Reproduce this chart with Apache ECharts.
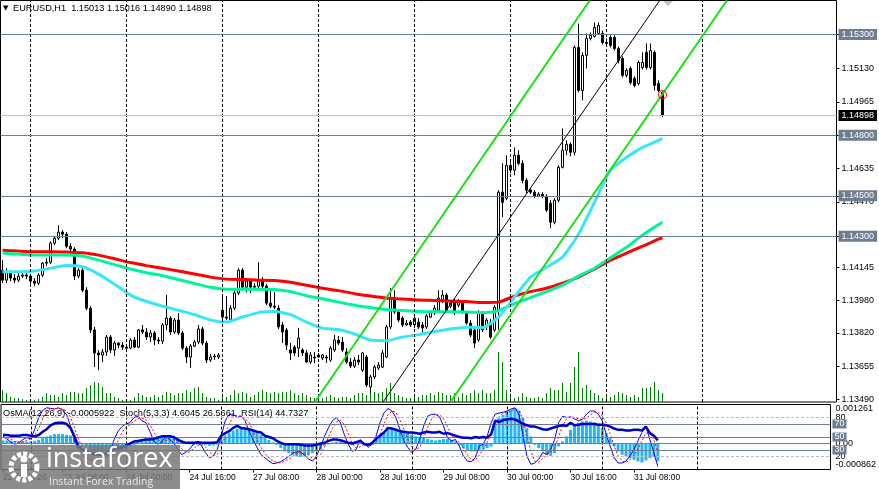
<!DOCTYPE html>
<html><head><meta charset="utf-8">
<script src="https://cdn.jsdelivr.net/npm/echarts@6/dist/echarts.min.js"></script>
<style>html,body{margin:0;padding:0;background:#fff}#c{width:879px;height:489px}</style>
</head><body><div id="c"></div><script>
// ---------- DATA ----------
const symbolTitle = 'EURUSD,H1';
const opens = [
1.14131,1.14082,1.14122,1.14092,1.14082,1.14102,1.14107,1.14102,1.14077,1.14067,
1.14107,1.14166,1.14171,1.14265,1.14290,1.14320,1.14310,1.14250,1.14236,1.14102,
1.14131,1.14032,1.13943,1.13835,1.13721,1.13711,1.13726,1.13800,1.13736,1.13770,
1.13760,1.13750,1.13745,1.13785,1.13750,1.13835,1.13825,1.13800,1.13820,1.13785,
1.13780,1.13860,1.13894,1.13825,1.13884,1.13820,1.13745,1.13701,1.13755,1.13775,
1.13840,1.13770,1.13686,1.13701,1.13701,1.13933,1.13899,1.13884,1.13943,1.14018,
1.14131,1.14047,1.14077,1.14047,1.14052,1.14082,1.14052,1.13968,1.13953,1.13943,
1.13860,1.13835,1.13736,1.13750,1.13745,1.13736,1.13721,1.13676,1.13701,1.13701,
1.13696,1.13701,1.13686,1.13736,1.13785,1.13775,1.13726,1.13676,1.13656,1.13686,
1.13636,1.13701,1.13552,1.13602,1.13646,1.13651,1.13701,1.13850,1.13993,1.13924,
1.13894,1.13860,1.13874,1.13860,1.13874,1.13860,1.13850,1.13899,1.13919,1.13933,
1.13983,1.14008,1.13953,1.13983,1.13958,1.13968,1.13919,1.13869,1.13835,1.13785,
1.13919,1.13850,1.13874,1.13835,1.13933,1.14518,1.14488,1.14651,1.14627,1.14701,
1.14661,1.14577,1.14528,1.14518,1.14498,1.14508,1.14498,1.14463,1.14369,1.14478,
1.14641,1.14726,1.14755,1.14716,1.15235,1.15022,1.15196,1.15280,1.15290,1.15305,
1.15305,1.15260,1.15285,1.15285,1.15230,1.15181,1.15097,1.15131,1.15082,1.15057,
1.15136,1.15211,1.15136,1.15211,1.15057,1.15013];
const highs = [
1.14181,1.14141,1.14131,1.14112,1.14117,1.14122,1.14117,1.14112,1.14092,1.14117,
1.14171,1.14191,1.14275,1.14300,1.14354,1.14330,1.14320,1.14265,1.14245,1.14141,
1.14141,1.14047,1.13953,1.13850,1.13736,1.13740,1.13810,1.13810,1.13780,1.13775,
1.13775,1.13765,1.13795,1.13800,1.13840,1.13860,1.13845,1.13835,1.13830,1.13800,
1.13869,1.14008,1.13904,1.13894,1.13919,1.13830,1.13755,1.13765,1.13785,1.13860,
1.13850,1.13780,1.13716,1.13716,1.13721,1.13998,1.14003,1.13958,1.14032,1.14141,
1.14141,1.14092,1.14087,1.14067,1.14171,1.14097,1.14062,1.14027,1.14022,1.13958,
1.13874,1.13845,1.13770,1.13760,1.13845,1.13745,1.13736,1.13726,1.13726,1.13721,
1.13716,1.13711,1.13755,1.13810,1.13805,1.13800,1.13745,1.13696,1.13701,1.13711,
1.13726,1.13711,1.13612,1.13661,1.13676,1.13736,1.13860,1.14042,1.14032,1.13938,
1.13904,1.13884,1.13884,1.13904,1.13894,1.13874,1.13914,1.13933,1.13958,1.14032,
1.14032,1.14018,1.13983,1.13993,1.13988,1.13983,1.13929,1.13884,1.13845,1.13933,
1.13929,1.13894,1.13889,1.13958,1.14528,1.14661,1.14701,1.14666,1.14740,1.14726,
1.14676,1.14587,1.14537,1.14528,1.14518,1.14518,1.14508,1.14478,1.14488,1.14651,
1.14834,1.14775,1.14765,1.15245,1.15354,1.15211,1.15305,1.15310,1.15359,1.15359,
1.15319,1.15280,1.15295,1.15295,1.15240,1.15191,1.15131,1.15141,1.15092,1.15171,
1.15211,1.15255,1.15255,1.15220,1.15072,1.15016];
const lows = [
1.14067,1.14067,1.14077,1.14067,1.14072,1.14092,1.14087,1.14057,1.14052,1.14057,
1.14097,1.14151,1.14161,1.14255,1.14280,1.14290,1.14240,1.14221,1.14082,1.14092,
1.14022,1.13933,1.13820,1.13651,1.13636,1.13676,1.13706,1.13721,1.13706,1.13745,
1.13736,1.13736,1.13740,1.13745,1.13745,1.13815,1.13785,1.13775,1.13760,1.13765,
1.13765,1.13835,1.13810,1.13815,1.13810,1.13736,1.13671,1.13646,1.13750,1.13765,
1.13760,1.13671,1.13676,1.13686,1.13691,1.13884,1.13884,1.13879,1.13933,1.14008,
1.14032,1.14022,1.14018,1.14032,1.14042,1.14042,1.13958,1.13943,1.13938,1.13840,
1.13770,1.13736,1.13686,1.13706,1.13701,1.13706,1.13671,1.13666,1.13671,1.13696,
1.13686,1.13671,1.13676,1.13726,1.13760,1.13726,1.13666,1.13646,1.13646,1.13661,
1.13627,1.13552,1.13522,1.13592,1.13636,1.13646,1.13696,1.13840,1.13914,1.13874,
1.13850,1.13855,1.13850,1.13845,1.13840,1.13820,1.13840,1.13894,1.13909,1.13924,
1.13968,1.13924,1.13943,1.13909,1.13948,1.13914,1.13860,1.13800,1.13745,1.13775,
1.13825,1.13835,1.13790,1.13825,1.13835,1.14394,1.14478,1.14612,1.14602,1.14651,
1.14562,1.14513,1.14508,1.14488,1.14493,1.14488,1.14419,1.14339,1.14359,1.14468,
1.14636,1.14701,1.14696,1.14701,1.15013,1.14973,1.15131,1.15270,1.15285,1.15300,
1.15250,1.15240,1.15235,1.15220,1.15156,1.15087,1.15087,1.15052,1.15037,1.15047,
1.15126,1.15126,1.15126,1.15022,1.15013,1.14890];
const closes = [
1.14082,1.14122,1.14092,1.14082,1.14102,1.14107,1.14102,1.14077,1.14067,1.14107,
1.14166,1.14171,1.14265,1.14290,1.14320,1.14310,1.14250,1.14236,1.14102,1.14131,
1.14032,1.13943,1.13835,1.13721,1.13711,1.13726,1.13800,1.13736,1.13770,1.13760,
1.13750,1.13745,1.13785,1.13750,1.13835,1.13825,1.13800,1.13820,1.13785,1.13780,
1.13860,1.13894,1.13825,1.13884,1.13820,1.13745,1.13701,1.13755,1.13775,1.13840,
1.13770,1.13686,1.13701,1.13706,1.13711,1.13899,1.13894,1.13943,1.14018,1.14131,
1.14047,1.14077,1.14047,1.14052,1.14082,1.14052,1.13968,1.13953,1.13948,1.13850,
1.13825,1.13760,1.13721,1.13721,1.13795,1.13721,1.13676,1.13711,1.13696,1.13711,
1.13711,1.13696,1.13745,1.13785,1.13770,1.13736,1.13676,1.13656,1.13686,1.13676,
1.13721,1.13562,1.13602,1.13651,1.13661,1.13721,1.13850,1.13993,1.13924,1.13884,
1.13860,1.13869,1.13860,1.13894,1.13850,1.13845,1.13904,1.13924,1.13943,1.13993,
1.14008,1.13933,1.13968,1.13919,1.13973,1.13924,1.13869,1.13810,1.13770,1.13919,
1.13835,1.13884,1.13800,1.13948,1.14518,1.14468,1.14651,1.14627,1.14701,1.14661,
1.14577,1.14528,1.14518,1.14498,1.14508,1.14498,1.14429,1.14369,1.14478,1.14641,
1.14726,1.14755,1.14716,1.15235,1.15022,1.15196,1.15280,1.15295,1.15334,1.15344,
1.15260,1.15255,1.15245,1.15230,1.15171,1.15097,1.15122,1.15062,1.15047,1.15161,
1.15161,1.15136,1.15220,1.15047,1.15022,1.14898];
const volumes = [
1200,900,500,400,400,300,200,300,200,300,
500,900,700,700,500,900,700,1000,1000,900,
900,1400,1700,2000,1900,1500,900,900,500,400,
200,300,200,500,900,700,500,500,700,500,
700,1000,900,700,900,900,1200,1000,1400,1500,
900,500,400,400,200,500,500,700,1200,900,
1000,900,500,700,1000,1200,1000,900,1000,900,
1000,1000,1200,900,700,900,700,500,400,400,
400,500,700,500,400,500,500,400,700,900,
900,700,1000,1000,900,1000,1400,1900,900,700,
500,400,400,500,500,700,700,900,700,1000,
900,700,700,900,500,900,700,900,1200,900,
1200,900,900,1200,5000,4000,1200,600,400,500,
900,500,400,400,500,400,900,1400,1200,1200,
1900,1000,1900,3500,5000,1400,1700,1200,900,700,
400,500,500,700,1000,900,700,500,700,500,
1400,1400,1500,2000,1200,900];
// moving averages, sampled every 4 bars (bar index in maBars)
const maBars = [0,4,8,12,16,20,24,28,32,36,40,44,48,52,56,60,64,68,72,76,80,84,88,92,96,100,104,108,112,116,120,124,128,132,136,140,144,148,152,156,160,164,165];
const maSlow = [
1.14230,1.14226,1.14223,1.14223,1.14221,1.14218,1.14206,1.14188,1.14169,1.14154,
1.14141,1.14127,1.14112,1.14097,1.14087,1.14085,1.14082,1.14080,1.14072,1.14057,
1.14042,1.14030,1.14015,1.14003,1.13993,1.13988,1.13983,1.13981,1.13978,1.13976,
1.13971,1.13973,1.14003,1.14025,1.14042,1.14067,1.14097,1.14137,1.14181,1.14216,
1.14250,1.14285,1.14292];
const maMid = [
1.14216,1.14211,1.14206,1.14206,1.14206,1.14201,1.14181,1.14159,1.14137,1.14119,
1.14104,1.14085,1.14065,1.14047,1.14037,1.14037,1.14037,1.14036,1.14025,1.14005,
1.13990,1.13973,1.13958,1.13946,1.13936,1.13931,1.13926,1.13925,1.13925,1.13924,
1.13920,1.13931,1.13966,1.13995,1.14025,1.14057,1.14102,1.14141,1.14193,1.14245,
1.14305,1.14357,1.14369];
const maFast = [
1.14123,1.14123,1.14127,1.14141,1.14154,1.14148,1.14112,1.14062,1.14008,1.13976,
1.13953,1.13933,1.13911,1.13884,1.13874,1.13899,1.13921,1.13926,1.13911,1.13874,
1.13844,1.13837,1.13815,1.13785,1.13782,1.13800,1.13812,1.13827,1.13840,1.13849,
1.13847,1.13899,1.13998,1.14097,1.14146,1.14196,1.14310,1.14468,1.14627,1.14691,
1.14740,1.14775,1.14785];
// equidistant channel [barIndex, price]
const chanUpper = [[78.1, 1.13478], [146.8, 1.15468]];
const chanMiddle = [[95.15, 1.13478], [164.3, 1.15468]];
const chanLower = [[112.0, 1.13478], [181.1, 1.15468]];
// marker where price touched the lower channel line [barIndex, price]
const touchMark = [165, 1.15001];
// indicators
const osma = [
0.000087,0.000087,0.000076,0.000065,0.000065,0.000065,0.000055,0.000055,0.000076,0.000109,
0.000164,0.000218,0.000251,0.000294,0.000294,0.000294,0.000273,0.000251,0.000164,0.000022,
-0.000055,-0.000109,-0.000218,-0.000327,-0.000414,-0.000436,-0.000436,-0.000414,-0.000349,-0.000305,
-0.000240,-0.000174,-0.000109,-0.000055,0.000087,0.000131,0.000153,0.000153,0.000164,0.000174,
0.000196,0.000218,0.000240,0.000218,0.000185,0.000087,0.000005,-0.000044,-0.000055,-0.000044,
-0.000044,-0.000065,-0.000087,-0.000076,-0.000044,0.000109,0.000218,0.000327,0.000414,0.000469,
0.000491,0.000458,0.000436,0.000382,0.000327,0.000273,0.000196,0.000109,0.000022,-0.000055,
-0.000164,-0.000273,-0.000327,-0.000382,-0.000436,-0.000458,-0.000436,-0.000382,-0.000327,-0.000273,
-0.000218,-0.000087,-0.000044,0.000022,0.000044,0.000033,0.000011,-0.000022,-0.000055,-0.000033,
0.000003,-0.000055,-0.000087,-0.000055,0.000109,0.000218,0.000327,0.000436,0.000491,0.000491,
0.000436,0.000382,0.000327,0.000273,0.000218,0.000185,0.000164,0.000131,0.000109,0.000087,
0.000109,0.000131,0.000142,0.000109,0.000055,-0.000055,-0.000164,-0.000240,-0.000273,-0.000273,
-0.000218,-0.000196,-0.000164,-0.000110,0.000600,0.000818,0.000927,0.001003,0.001090,0.001145,
0.001068,0.000818,0.000491,0.000218,-0.000055,-0.000164,-0.000273,-0.000382,-0.000414,-0.000327,
-0.000109,0.000055,0.000218,0.000436,0.000600,0.000654,0.000709,0.000730,0.000709,0.000676,
0.000632,0.000491,0.000327,0.000164,-0.000109,-0.000273,-0.000382,-0.000436,-0.000491,-0.000545,
-0.000600,-0.000632,-0.000567,-0.000491,-0.000458,-0.0005922];
const stochMain = [
51,47,42,39,41,46,49,47,62,80,
91,95,94,93,95,91,85,67,44,31,
26,18,15,13,15,17,21,28,46,59,
66,70,72,80,82,75,72,59,44,39,
42,51,46,41,31,23,26,31,39,41,
37,26,18,21,31,51,75,85,85,80,
82,75,59,46,34,23,18,13,9,10,
12,16,20,25,27,27,22,16,13,21,
34,51,64,75,80,72,54,39,28,31,
46,41,34,39,51,72,87,94,90,80,
62,44,34,26,31,46,67,82,85,85,
81,67,49,44,46,36,21,13,12,18,
36,39,51,72,85,87,88,90,93,95,
85,54,21,8,10,16,26,23,31,46,
72,82,80,81,78,75,77,85,90,90,
85,75,54,36,18,10,10,13,21,31,
44,57,66,46,26,4.6045];
const stochSignal = [
50,49,47,43,41,42,45,47,53,63,
78,89,93,94,94,93,90,81,65,47,
34,25,20,15,14,15,18,22,32,44,
57,65,69,74,78,79,76,69,58,47,
42,44,46,46,39,32,27,27,32,37,
39,35,27,22,23,34,52,70,82,83,
82,79,72,60,46,34,25,18,13,11,
10,13,16,20,24,26,25,22,17,17,
23,35,50,63,73,76,69,55,40,33,
35,39,40,38,41,54,70,84,90,88,
77,62,47,35,30,34,48,65,78,84,
84,78,66,53,46,42,34,23,15,14,
22,31,42,54,69,81,87,88,90,93,
91,78,53,28,13,11,17,22,27,33,
50,67,78,81,80,78,77,79,84,88,
88,83,71,55,36,21,13,11,15,22,
32,44,56,56,46,26.5661];
const rsi = [
53,53,52,52,52,53,53,52,51,53,
58,62,68,71,72,72,70,64,51,36,
30,28,26,23,23,23,24,30,32,33,
34,37,40,43,44,45,46,46,47,49,
51,51,51,50,46,43,41,41,41,42,
41,41,41,41,42,52,56,59,64,67,
64,63,62,60,58,57,52,50,48,44,
41,39,39,39,39,38,37,37,37,38,
40,41,44,46,46,45,43,41,40,42,
44,39,38,41,47,52,57,64,63,61,
59,58,57,57,56,55,57,58,57,57,
58,55,56,54,52,50,49,49,48,50,
49,50,49,54,75,73,76,77,78,77,
74,70,68,66,66,64,62,61,63,65,
67,68,67,72,68,69,70,70,70,70,
69,69,68,66,63,61,61,60,60,61,
61,60,66,56,52,44.7327];
// axes / ticks / levels
const barSlots = 209;
const timeLabelBars = [0, 15, 31, 47, 63, 79, 95, 111, 127, 143, 159];
const timeLabels = ['22 Jul 2026','23 Jul 08:00','24 Jul 00:00','24 Jul 16:00','27 Jul 08:00','28 Jul 00:00','28 Jul 16:00','29 Jul 08:00','30 Jul 00:00','30 Jul 16:00','31 Jul 08:00'];
const dayLineBars = [7, 31, 55, 79, 103, 127, 151, 175];
const priceMin = 1.13478, priceMax = 1.15468;
const priceTicks = [1.15130, 1.14965, 1.14635, 1.14470, 1.14145, 1.13980, 1.13820, 1.13655, 1.13490];
const priceLevels = [1.15300, 1.14800, 1.14500, 1.14300];
const bidPrice = 1.14898;
const osmaMin = -0.000862, osmaMax = 0.001261;
const oscBoxedLevels = [70, 50, 30];
const oscDashedLevels = [80, 20];

// ---------- CHART ----------
const FONT = 'Liberation Sans';
const SLATE = '#6E7E90';
const cats = Array.from({length: barSlots}, (_, i) => String(i));
const candleData = opens.map((o, i) => [o, closes[i], lows[i], highs[i]]);
const maPts = arr => arr.map((v, k) => [maBars[k], v]);
const last = opens.length - 1;
const f5 = v => v.toFixed(5);

const chart = echarts.init(document.getElementById('c'));
const gridL = 0.5, gridW = 836;
const noLine = {show: false, onZero: false};

const dayLines = {symbol: 'none', silent: true, animation: false, label: {show: false},
  lineStyle: {color: '#000', type: [3, 2], width: 1},
  data: dayLineBars.map(b => ({xAxis: b}))};

const priceBox = (bg) => ({show: true, position: 'end', distance: 2, formatter: p => f5(p.value),
  backgroundColor: bg, color: '#fff', fontSize: 9, fontFamily: FONT, padding: [1, 3, 1, 3]});

chart.setOption({
  animation: false,
  backgroundColor: '#fff',
  textStyle: {fontFamily: FONT},
  grid: [
    {left: gridL, width: gridW, top: 0.5, height: 401.5, show: true, borderColor: '#000', borderWidth: 1, backgroundColor: 'transparent'},
    {left: gridL, width: gridW, top: 302, height: 100, show: false},
    {left: gridL, width: gridW, top: 404.5, height: 65, show: true, borderColor: '#000', borderWidth: 1}
  ],
  xAxis: [
    {type: 'category', gridIndex: 0, data: cats, boundaryGap: true, show: false, axisLine: noLine},
    {type: 'value', gridIndex: 0, min: -0.5, max: barSlots - 0.5, show: false, axisLine: noLine},
    {type: 'category', gridIndex: 1, data: cats, boundaryGap: true, show: false, axisLine: noLine},
    {type: 'category', gridIndex: 2, data: cats, boundaryGap: true,
      axisLine: noLine,
      axisTick: {show: true, alignWithLabel: true, length: 3, lineStyle: {color: '#000'},
        interval: i => timeLabelBars.includes(i)},
      axisLabel: {show: true, interval: i => timeLabelBars.includes(i), align: 'left',
        formatter: (v, i) => { const k = timeLabelBars.indexOf(i); return k >= 0 ? timeLabels[k] : ''; },
        fontSize: 8.5, color: '#000', margin: 4, fontFamily: FONT},
      splitLine: {show: false}}
  ],
  yAxis: [
    {type: 'value', gridIndex: 0, min: priceMin, max: priceMax, position: 'right',
      axisLine: noLine, splitLine: {show: false},
      axisTick: {show: true, inside: false, length: 3, lineStyle: {color: '#000'}, customValues: priceTicks.concat(priceLevels)},
      axisLabel: {customValues: priceTicks, formatter: v => f5(v), fontSize: 9, color: '#000', margin: 5, fontFamily: FONT}},
    {type: 'value', gridIndex: 1, min: 0, max: 10000, show: false, axisLine: noLine},
    {type: 'value', gridIndex: 2, min: 0, max: 100, position: 'right',
      axisLine: noLine, splitLine: {show: false}, axisTick: {show: false},
      axisLabel: {customValues: oscDashedLevels, fontSize: 9, color: '#000', margin: 5, fontFamily: FONT}},
    {type: 'value', gridIndex: 2, min: osmaMin, max: osmaMax, position: 'right',
      axisLine: noLine, splitLine: {show: false}, axisTick: {show: false},
      axisLabel: {customValues: [0], formatter: () => '0.00', fontSize: 9, color: '#000', margin: 5, verticalAlign: 'middle'}},
    {type: 'value', gridIndex: 2, min: osmaMin, max: osmaMax, position: 'right',
      axisLine: noLine, splitLine: {show: false}, axisTick: {show: false},
      axisLabel: {customValues: [osmaMax], formatter: v => v.toFixed(6), fontSize: 9, color: '#000', margin: 5, verticalAlign: 'top'}},
    {type: 'value', gridIndex: 2, min: osmaMin, max: osmaMax, position: 'right',
      axisLine: noLine, splitLine: {show: false}, axisTick: {show: false},
      axisLabel: {customValues: [osmaMin], formatter: v => v.toFixed(6), fontSize: 9, color: '#000', margin: 5, verticalAlign: 'bottom'}}
  ],
  series: [
    {type: 'line', xAxisIndex: 0, yAxisIndex: 0, data: [], z: 1, markLine: dayLines},
    {type: 'bar', xAxisIndex: 2, yAxisIndex: 1, data: volumes, barWidth: 1, z: 1,
      itemStyle: {color: '#008000'}, silent: true},
    {type: 'candlestick', xAxisIndex: 0, yAxisIndex: 0, data: candleData, barWidth: 3, z: 3,
      itemStyle: {color: '#fff', color0: '#000', borderColor: '#000', borderColor0: '#000', borderWidth: 1},
      markLine: {symbol: 'none', silent: true, animation: false, precision: 6,
        data: priceLevels.map(p => ({yAxis: p, lineStyle: {color: SLATE, type: 'solid', width: 1}, label: priceBox(SLATE)}))
          .concat([{yAxis: bidPrice, lineStyle: {color: '#C0C0C0', type: 'solid', width: 1}, label: priceBox('#000')}])}},
    {type: 'line', xAxisIndex: 0, yAxisIndex: 0, data: maPts(maSlow), showSymbol: false, smooth: 0.2, z: 4,
      lineStyle: {color: '#FF0000', width: 3}},
    {type: 'line', xAxisIndex: 0, yAxisIndex: 0, data: maPts(maMid), showSymbol: false, smooth: 0.2, z: 4,
      lineStyle: {color: '#00F59A', width: 3}},
    {type: 'line', xAxisIndex: 0, yAxisIndex: 0, data: maPts(maFast), showSymbol: false, smooth: 0.2, z: 4,
      lineStyle: {color: '#38E6FA', width: 3}},
    {type: 'line', xAxisIndex: 1, yAxisIndex: 0, data: chanUpper, showSymbol: false, z: 5,
      lineStyle: {color: '#18E018', width: 2}},
    {type: 'line', xAxisIndex: 1, yAxisIndex: 0, data: chanLower, showSymbol: false, z: 5,
      lineStyle: {color: '#18E018', width: 2}},
    {type: 'line', xAxisIndex: 1, yAxisIndex: 0, data: chanMiddle, showSymbol: false, z: 5,
      lineStyle: {color: '#000', width: 1}},
    {type: 'scatter', xAxisIndex: 1, yAxisIndex: 0, data: [touchMark], symbol: 'circle', symbolSize: 8, z: 6, silent: true,
      itemStyle: {color: 'rgba(0,0,0,0)', borderColor: '#FF0000', borderWidth: 1.3}},
    // indicator window
    {type: 'line', xAxisIndex: 3, yAxisIndex: 2, data: [], z: 1, markLine: dayLines},
    {type: 'bar', xAxisIndex: 3, yAxisIndex: 3, data: osma, barWidth: 3, z: 2,
      itemStyle: {color: '#22B7F0'},
      markLine: {symbol: 'none', silent: true, animation: false, label: {show: false}, precision: 8,
        data: [{yAxis: 0, lineStyle: {color: SLATE, type: 'solid', width: 1}}]}},
    {type: 'line', xAxisIndex: 3, yAxisIndex: 2, data: stochMain, showSymbol: false, z: 4,
      lineStyle: {color: '#0000FF', width: 1},
      markLine: {symbol: 'none', silent: true, animation: false,
        data: oscDashedLevels.map(v => ({yAxis: v, lineStyle: {color: '#BDBDBD', type: [3, 2], width: 1}, label: {show: false}}))
          .concat(oscBoxedLevels.map(v => ({yAxis: v, lineStyle: {color: SLATE, type: 'solid', width: 1},
            label: {show: true, position: 'end', distance: 2, formatter: p => String(p.value), backgroundColor: SLATE,
              color: '#fff', fontSize: 9, padding: [0, 2, 0, 2], fontFamily: FONT}})))}},
    {type: 'line', xAxisIndex: 3, yAxisIndex: 2, data: stochSignal, showSymbol: false, z: 4,
      lineStyle: {color: '#FF0000', width: 1, type: [2, 2]}},
    {type: 'line', xAxisIndex: 3, yAxisIndex: 2, data: rsi, showSymbol: false, z: 5,
      lineStyle: {color: '#0000C8', width: 2.5}}
  ],
  graphic: [
    {type: 'text', x: 3, y: 8, z: 50, style: {text: '\u25BC', fill: '#000', font: '7px "DejaVu Sans"', verticalAlign: 'middle'}},
    {type: 'text', x: 13, y: 8, z: 50, style: {
      text: symbolTitle + '  ' + [opens[last], highs[last], lows[last], closes[last]].map(f5).join(' '),
      fill: '#000', font: '9.2px "Liberation Sans"', verticalAlign: 'middle'}},
    {type: 'text', x: 3, y: 413, z: 50, style: {
      text: 'OsMA(12,26,9) ' + osma[last].toFixed(7) + '  Stoch(5,3,3) ' + stochMain[last].toFixed(4) + ' ' +
        stochSignal[last].toFixed(4) + '  RSI(14) ' + rsi[last].toFixed(4),
      fill: '#000', font: '9.2px "Liberation Sans"', verticalAlign: 'middle'}},
    // chart-shift marker at the top edge
    {type: 'polygon', z: 50, shape: {points: [[663, 1], [673, 1], [668, 6]]}, style: {fill: '#BFBFBF'}},
    // watermark logo
    {type: 'rect', z: 100, shape: {x: 0, y: 445, width: 180, height: 44}, style: {fill: 'rgba(120,120,120,0.85)'}},
    {type: 'circle', z: 101, shape: {cx: 24, cy: 467, r: 13}, style: {fill: 'none', stroke: '#fff', lineWidth: 5, lineDash: [4, 2]}},
    {type: 'circle', z: 101, shape: {cx: 24, cy: 459, r: 3.5}, style: {fill: '#fff'}},
    {type: 'rect', z: 101, shape: {x: 21, y: 464, width: 6, height: 13}, style: {fill: '#fff'}},
    {type: 'text', z: 101, x: 46, y: 473, style: {text: 'instaforex', fill: '#fff', font: '27px "Open Sans"', verticalAlign: 'bottom'}},
    {type: 'text', z: 101, x: 49, y: 482, style: {text: 'Instant Forex Trading', fill: '#e8e8e8', font: '10.5px "Open Sans"', verticalAlign: 'middle'}}
  ]
});
</script></body></html>
